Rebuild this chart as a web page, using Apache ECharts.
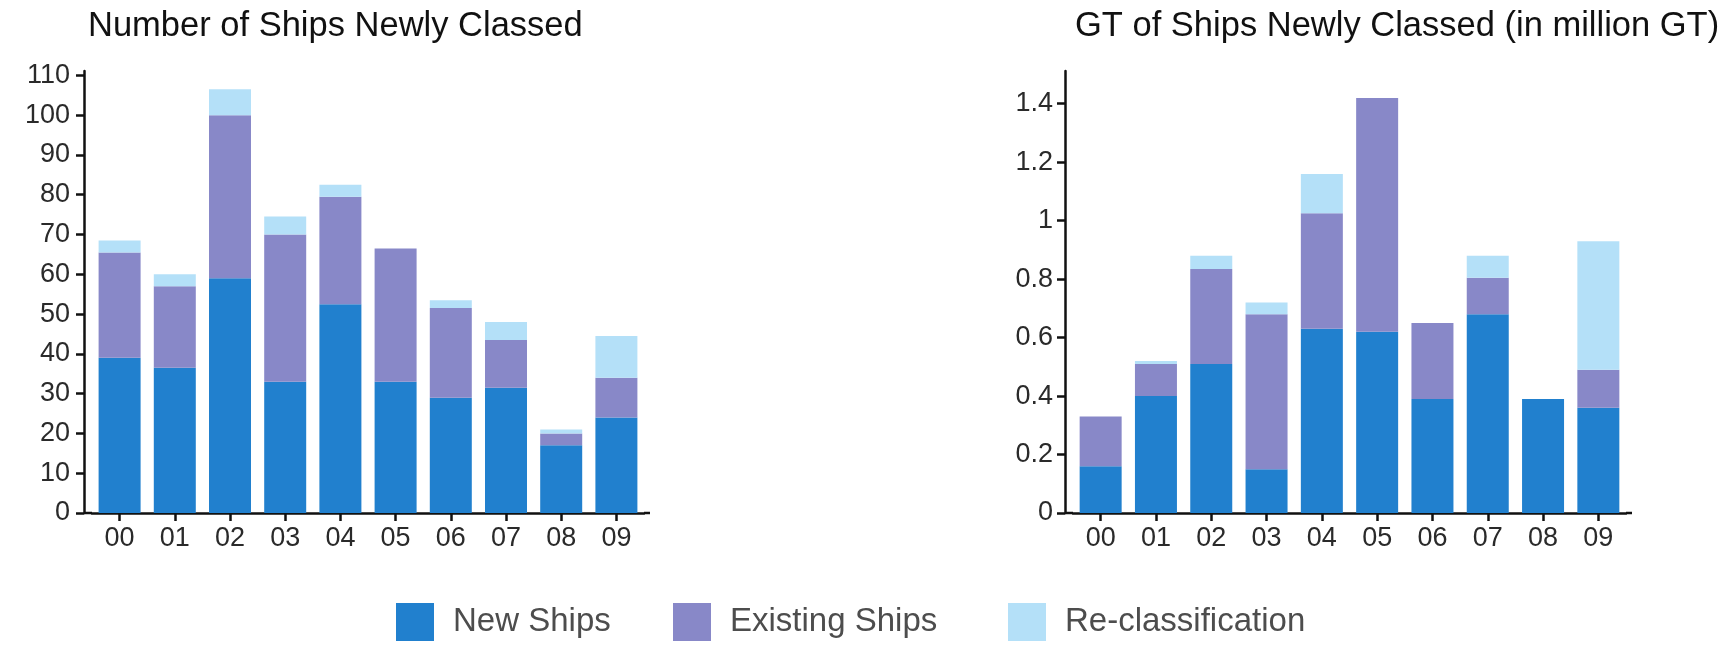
<!DOCTYPE html>
<html>
<head>
<meta charset="utf-8">
<title>Ships Newly Classed</title>
<script src="https://cdn.jsdelivr.net/npm/echarts@6/dist/echarts.min.js"></script>
<style>
  html, body { margin: 0; padding: 0; background: #ffffff; }
  #chart { width: 1727px; height: 648px; }
</style>
</head>
<body>
<div id="chart"></div>
<script>
// Years 2000–2009, shown as two-digit labels
const categories = ['00', '01', '02', '03', '04', '05', '06', '07', '08', '09'];
const seriesNames = ['New Ships', 'Existing Ships', 'Re-classification'];

// Number of ships newly classed (stacked)
const shipsNew      = [39, 36.5, 59, 33, 52.5, 33, 29, 31.5, 17, 24];
const shipsExisting = [26.5, 20.5, 41, 37, 27, 33.5, 22.5, 12, 3, 10];
const shipsReclass  = [3, 3, 6.5, 4.5, 3, 0, 2, 4.5, 1, 10.5];

// Gross tonnage of ships newly classed, million GT (stacked)
const gtNew      = [0.16, 0.40, 0.51, 0.15, 0.63, 0.62, 0.39, 0.68, 0.39, 0.36];
const gtExisting = [0.17, 0.11, 0.325, 0.53, 0.395, 0.80, 0.26, 0.125, 0, 0.13];
const gtReclass  = [0, 0.01, 0.045, 0.04, 0.135, 0, 0, 0.075, 0, 0.44];

// Tick values on the two value axes
const shipTicks = [0, 10, 20, 30, 40, 50, 60, 70, 80, 90, 100, 110];
const gtTicks   = [0, 0.2, 0.4, 0.6, 0.8, 1, 1.2, 1.4];

const colors = ['#2180ce', '#8888c8', '#b4e0f8'];
const FONT = "'Liberation Sans', Arial, Helvetica, sans-serif";
const AXIS_COLOR = '#111111';
const TICK_FONT = 27;

// Panel geometry
const panels = [
  { left: 92, width: 552, yMax: 111.1, ticks: shipTicks, labelMargin: 14 },
  { left: 1073, width: 553, yMax: 1.512, ticks: gtTicks, labelMargin: 12 }
];
const GRID_TOP = 71, GRID_HEIGHT = 442, Y_OFFSET = 8, X_OVERHANG = 6;

const chart = echarts.init(document.getElementById('chart'), null, { renderer: 'canvas' });

function fmtTick(v) {
  return String(Math.round(v * 10) / 10);
}

const grids = panels.map(p => ({
  left: p.left, top: GRID_TOP, width: p.width, height: GRID_HEIGHT, containLabel: false
}));

const xAxes = panels.map((p, i) => ({
  type: 'category',
  gridIndex: i,
  data: categories,
  axisLine: { show: true, lineStyle: { color: AXIS_COLOR, width: 2.5 } },
  axisTick: { show: true, alignWithLabel: true, length: 8, lineStyle: { color: AXIS_COLOR, width: 2.5 } },
  axisLabel: { color: '#2a2a2a', fontSize: TICK_FONT, fontFamily: FONT, margin: 12 },
  splitLine: { show: false }
}));

const yAxes = panels.map((p, i) => ({
  type: 'value',
  gridIndex: i,
  min: 0,
  max: p.yMax,
  offset: Y_OFFSET,
  axisLine: { show: true, lineStyle: { color: AXIS_COLOR, width: 2.5 } },
  axisTick: { show: true, length: 8, customValues: p.ticks, lineStyle: { color: AXIS_COLOR, width: 2.5 } },
  axisLabel: {
    color: '#2a2a2a', fontSize: TICK_FONT, fontFamily: FONT, margin: p.labelMargin,
    customValues: p.ticks, formatter: fmtTick
  },
  splitLine: { show: false }
}));

function stackSeries(gridIdx, values) {
  return values.map((data, k) => ({
    name: seriesNames[k],
    type: 'bar',
    stack: 'panel' + gridIdx,
    xAxisIndex: gridIdx,
    yAxisIndex: gridIdx,
    barWidth: 42,
    itemStyle: { color: colors[k] },
    emphasis: { disabled: true },
    data: data
  }));
}

// Baseline continues from the offset y-axis and slightly past the last band
const baselineY = GRID_TOP + GRID_HEIGHT;
const baselineExtensions = [];
panels.forEach(p => {
  baselineExtensions.push({
    type: 'line', silent: true,
    shape: { x1: p.left - Y_OFFSET, y1: baselineY, x2: p.left, y2: baselineY },
    style: { stroke: AXIS_COLOR, lineWidth: 2.5 }
  });
  baselineExtensions.push({
    type: 'line', silent: true,
    shape: { x1: p.left + p.width, y1: baselineY, x2: p.left + p.width + X_OVERHANG, y2: baselineY },
    style: { stroke: AXIS_COLOR, lineWidth: 2.5 }
  });
});

const legendLefts = [391, 668, 1003];
const titleStyle = { color: '#111111', fontSize: 34.5, fontWeight: 'normal', fontFamily: FONT };

chart.setOption({
  animation: false,
  backgroundColor: '#ffffff',
  title: [
    { text: 'Number of Ships Newly Classed', left: 83, top: 4, textStyle: titleStyle },
    { text: 'GT of Ships Newly Classed (in million GT)', left: 1070, top: 4, textStyle: titleStyle }
  ],
  legend: seriesNames.map((name, k) => ({
    data: [name],
    left: legendLefts[k],
    top: 598,
    icon: 'rect',
    itemWidth: 38,
    itemHeight: 38,
    selectedMode: false,
    textStyle: { color: '#4d4d4d', fontSize: 33, fontFamily: FONT, padding: [0, 0, 0, 14] }
  })),
  grid: grids,
  xAxis: xAxes,
  yAxis: yAxes,
  series: [
    ...stackSeries(0, [shipsNew, shipsExisting, shipsReclass]),
    ...stackSeries(1, [gtNew, gtExisting, gtReclass])
  ],
  graphic: baselineExtensions
});
</script>
</body>
</html>
